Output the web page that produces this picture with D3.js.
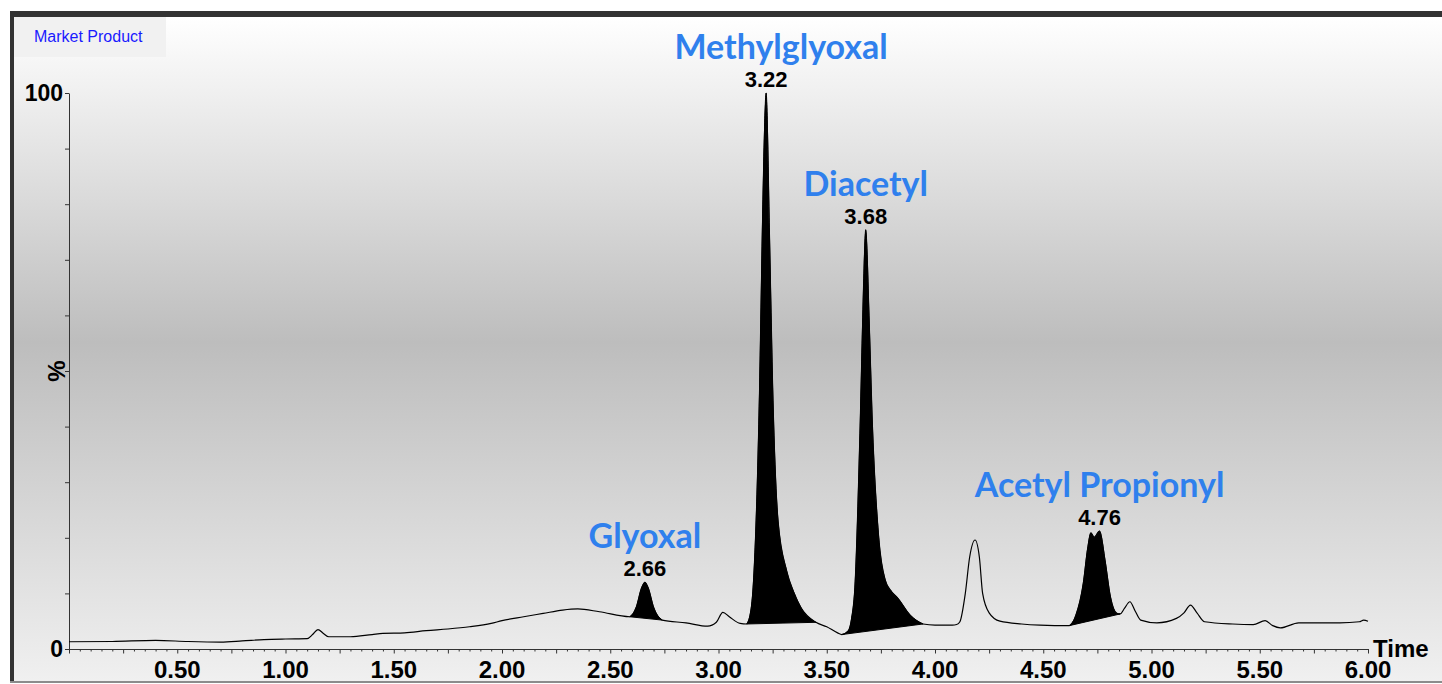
<!DOCTYPE html>
<html>
<head>
<meta charset="utf-8">
<script src="https://cdn.jsdelivr.net/npm/d3@7"></script>
<style>
  html, body { margin: 0; padding: 0; background: #fff; }
  svg { display: block; }
  .num { font-family: "Liberation Sans", Arial, sans-serif; font-weight: bold; }
  .name { font-family: Lato, "Open Sans", sans-serif; font-weight: bold; fill: #2f80ed; }
</style>
</head>
<body>
<svg id="chart" width="1442" height="684"></svg>
<script>
  'use strict';

  /* DATA - chromatogram trace */
  var times = [0.00, 0.20, 0.40, 0.55, 0.70, 0.80, 0.90, 1.00, 1.10, 1.125, 1.15, 1.175, 1.20, 1.30, 1.40, 1.45,
    1.55, 1.65, 1.75, 1.85, 1.95, 2.00, 2.10, 2.19, 2.28, 2.35, 2.45, 2.59, 2.62, 2.645, 2.66, 2.675, 2.70, 2.74,
    2.85, 2.95, 2.99, 3.02, 3.05, 3.10, 3.13, 3.15, 3.16, 3.19, 3.205, 3.22, 3.235, 3.25, 3.275, 3.315, 3.35, 3.38,
    3.45, 3.50, 3.55, 3.57, 3.60, 3.615, 3.63, 3.655, 3.67, 3.68, 3.695, 3.71, 3.74, 3.77, 3.80, 3.825, 3.885, 3.945,
    4.00, 4.08, 4.10, 4.115, 4.14, 4.16, 4.185, 4.205, 4.22, 4.25, 4.30, 4.40, 4.485, 4.62, 4.65, 4.685, 4.705, 4.72,
    4.735, 4.76, 4.785, 4.81, 4.84, 4.855, 4.875, 4.90, 4.925, 4.95, 5.025, 5.115, 5.15, 5.18, 5.21, 5.245, 5.375,
    5.47, 5.525, 5.56, 5.595, 5.68, 5.87, 5.96, 5.98, 6.00];
  var intensity = [1.3, 1.35, 1.55, 1.35, 1.25, 1.45, 1.7, 1.8, 1.85, 2.6, 3.5, 2.8, 2.2, 2.2, 2.6, 2.8,
    2.9, 3.3, 3.6, 4.0, 4.6, 5.1, 5.8, 6.4, 7.0, 7.2, 6.7, 5.8, 7.5, 11.0, 12.0, 11.0, 7.5, 5.2,
    4.7, 4.1, 4.8, 6.6, 5.8, 4.6, 4.5, 7, 11, 47, 80, 100, 75, 47, 23, 14, 10, 7.5,
    4.8, 4.0, 2.9, 2.6, 3.3, 5.5, 11, 41, 65, 75.4, 60, 41, 20, 12.4, 10.3, 9.3, 6.1, 4.5,
    4.3, 4.3, 4.4, 4.9, 10, 16.5, 19.6, 16.5, 10, 6.5, 5.0, 4.5, 4.3, 4.2, 6, 11.8, 18, 20.9,
    20.1, 21.2, 16, 9.4, 6.4, 6.3, 7.3, 8.5, 6.8, 5.2, 4.7, 5.5, 6.5, 7.9, 6.5, 4.9, 4.5,
    4.4, 5.1, 4.2, 3.8, 4.7, 4.7, 4.9, 5.2, 5.0];

  /* integrated peaks */
  var peakNames = ['Glyoxal', 'Methylglyoxal', 'Diacetyl', 'Acetyl Propionyl'];
  var peakTimes = [2.66, 3.22, 3.68, 4.76];
  var peakStart = [2.59, 3.13, 3.57, 4.62];
  var peakEnd = [2.74, 3.45, 3.945, 4.855];

  var xTickLabels = [0.5, 1.0, 1.5, 2.0, 2.5, 3.0, 3.5, 4.0, 4.5, 5.0, 5.5, 6.0];
  var yTickLabels = [0, 100];

  var svg = d3.select('#chart');
  var defs = svg.append('defs');

  var bg = defs.append('linearGradient')
    .attr('id', 'bg')
    .attr('x1', 0).attr('y1', 0).attr('x2', 0).attr('y2', 1);
  bg.append('stop').attr('offset', '0%').attr('stop-color', '#ffffff');
  bg.append('stop').attr('offset', '49%').attr('stop-color', '#bdbdbd');
  bg.append('stop').attr('offset', '100%').attr('stop-color', '#f0f0f0');

  // frame
  svg.append('rect').attr('x', 14).attr('y', 17).attr('width', 1428).attr('height', 664).attr('fill', 'url(#bg)');
  svg.append('rect').attr('x', 10).attr('y', 11).attr('width', 1432).attr('height', 6).attr('fill', '#333');
  svg.append('rect').attr('x', 10).attr('y', 11).attr('width', 4).attr('height', 670).attr('fill', '#333');
  svg.append('rect').attr('x', 10).attr('y', 681).attr('width', 1432).attr('height', 2).attr('fill', '#8c8c8c');

  // title box
  svg.append('rect').attr('x', 14).attr('y', 17).attr('width', 152).attr('height', 40).attr('fill', '#f1f1f1');
  svg.append('text')
    .attr('x', 34).attr('y', 42)
    .style('font-family', '"Liberation Sans", Arial, sans-serif')
    .style('font-size', '16px')
    .attr('fill', '#1a1aff')
    .text('Market Product');

  /* scales */
  var x = d3.scaleLinear().domain([0, 6]).range([69, 1368]);
  var y = d3.scaleLinear().domain([0, 100]).range([649, 93]);

  // y axis
  var yAxis = svg.append('g')
    .attr('transform', 'translate(69,0)')
    .call(d3.axisLeft(y)
      .tickValues(d3.range(0, 101, 10))
      .tickSize(4)
      .tickSizeOuter(0)
      .tickPadding(2)
      .tickFormat(function (d) {
        return yTickLabels.indexOf(d) > -1 ? d : '';
      }));
  yAxis.select('.domain').attr('stroke', '#333');
  yAxis.selectAll('.tick line').attr('stroke', '#333');
  yAxis.selectAll('text')
    .attr('class', 'num')
    .style('font-size', '23px')
    .attr('fill', '#000');

  // x axis
  var minorTicks = d3.range(0, 121).map(function (i) { return i * 0.05; });
  var xAxis = svg.append('g')
    .attr('transform', 'translate(0,649)')
    .call(d3.axisBottom(x)
      .tickValues(minorTicks)
      .tickSize(3)
      .tickSizeOuter(0)
      .tickFormat(''));
  xAxis.select('.domain').attr('stroke', '#333');
  xAxis.selectAll('.tick line')
    .attr('stroke', '#333')
    .attr('y2', function (d) {
      return Math.abs(d * 4 - Math.round(d * 4)) < 1e-6 ? 4.5 : 2.5;
    });

  svg.append('g').selectAll('text')
    .data(xTickLabels)
    .enter().append('text')
    .attr('class', 'num')
    .attr('x', function (d) { return x(d); })
    .attr('y', 678)
    .attr('text-anchor', 'middle')
    .style('font-size', '24px')
    .text(function (d) { return d.toFixed(2); });

  svg.append('text')
    .attr('class', 'num')
    .attr('x', 1373).attr('y', 657)
    .style('font-size', '24px')
    .text('Time');

  svg.append('text')
    .attr('class', 'num')
    .attr('transform', 'translate(65,371) rotate(-90)')
    .attr('text-anchor', 'middle')
    .style('font-size', '24px')
    .text('%');

  /* trace */
  var trace = times.map(function (t, i) {
    return { t: t, v: intensity[i] };
  });

  var line = d3.line()
    .x(function (d) { return x(d.t); })
    .y(function (d) { return y(d.v); })
    .curve(d3.curveMonotoneX);

  // filled peak areas, closed with a straight baseline
  peakNames.forEach(function (name, i) {
    var pts = trace.filter(function (d) {
      return d.t >= peakStart[i] - 1e-9 && d.t <= peakEnd[i] + 1e-9;
    });
    svg.append('path')
      .attr('d', line(pts) + 'Z')
      .attr('fill', '#000')
      .attr('stroke', '#000')
      .attr('stroke-width', 1);
  });

  svg.append('path')
    .datum(trace)
    .attr('d', line)
    .attr('fill', 'none')
    .attr('stroke', '#000')
    .attr('stroke-width', 1.2);

  // peak labels
  peakNames.forEach(function (name, i) {
    var top = trace.filter(function (d) { return d.t === peakTimes[i]; })[0];
    var py = y(top.v) - 6;
    svg.append('text')
      .attr('class', 'num')
      .attr('x', x(peakTimes[i]))
      .attr('y', py)
      .attr('text-anchor', 'middle')
      .style('font-size', '22px')
      .text(peakTimes[i].toFixed(2));
    svg.append('text')
      .attr('class', 'name')
      .attr('x', x(peakTimes[i]) + (name === 'Methylglyoxal' ? 15 : 0))
      .attr('y', py - 28)
      .attr('text-anchor', 'middle')
      .style('font-size', '34px')
      .text(name);
  });
</script>
</body>
</html>
